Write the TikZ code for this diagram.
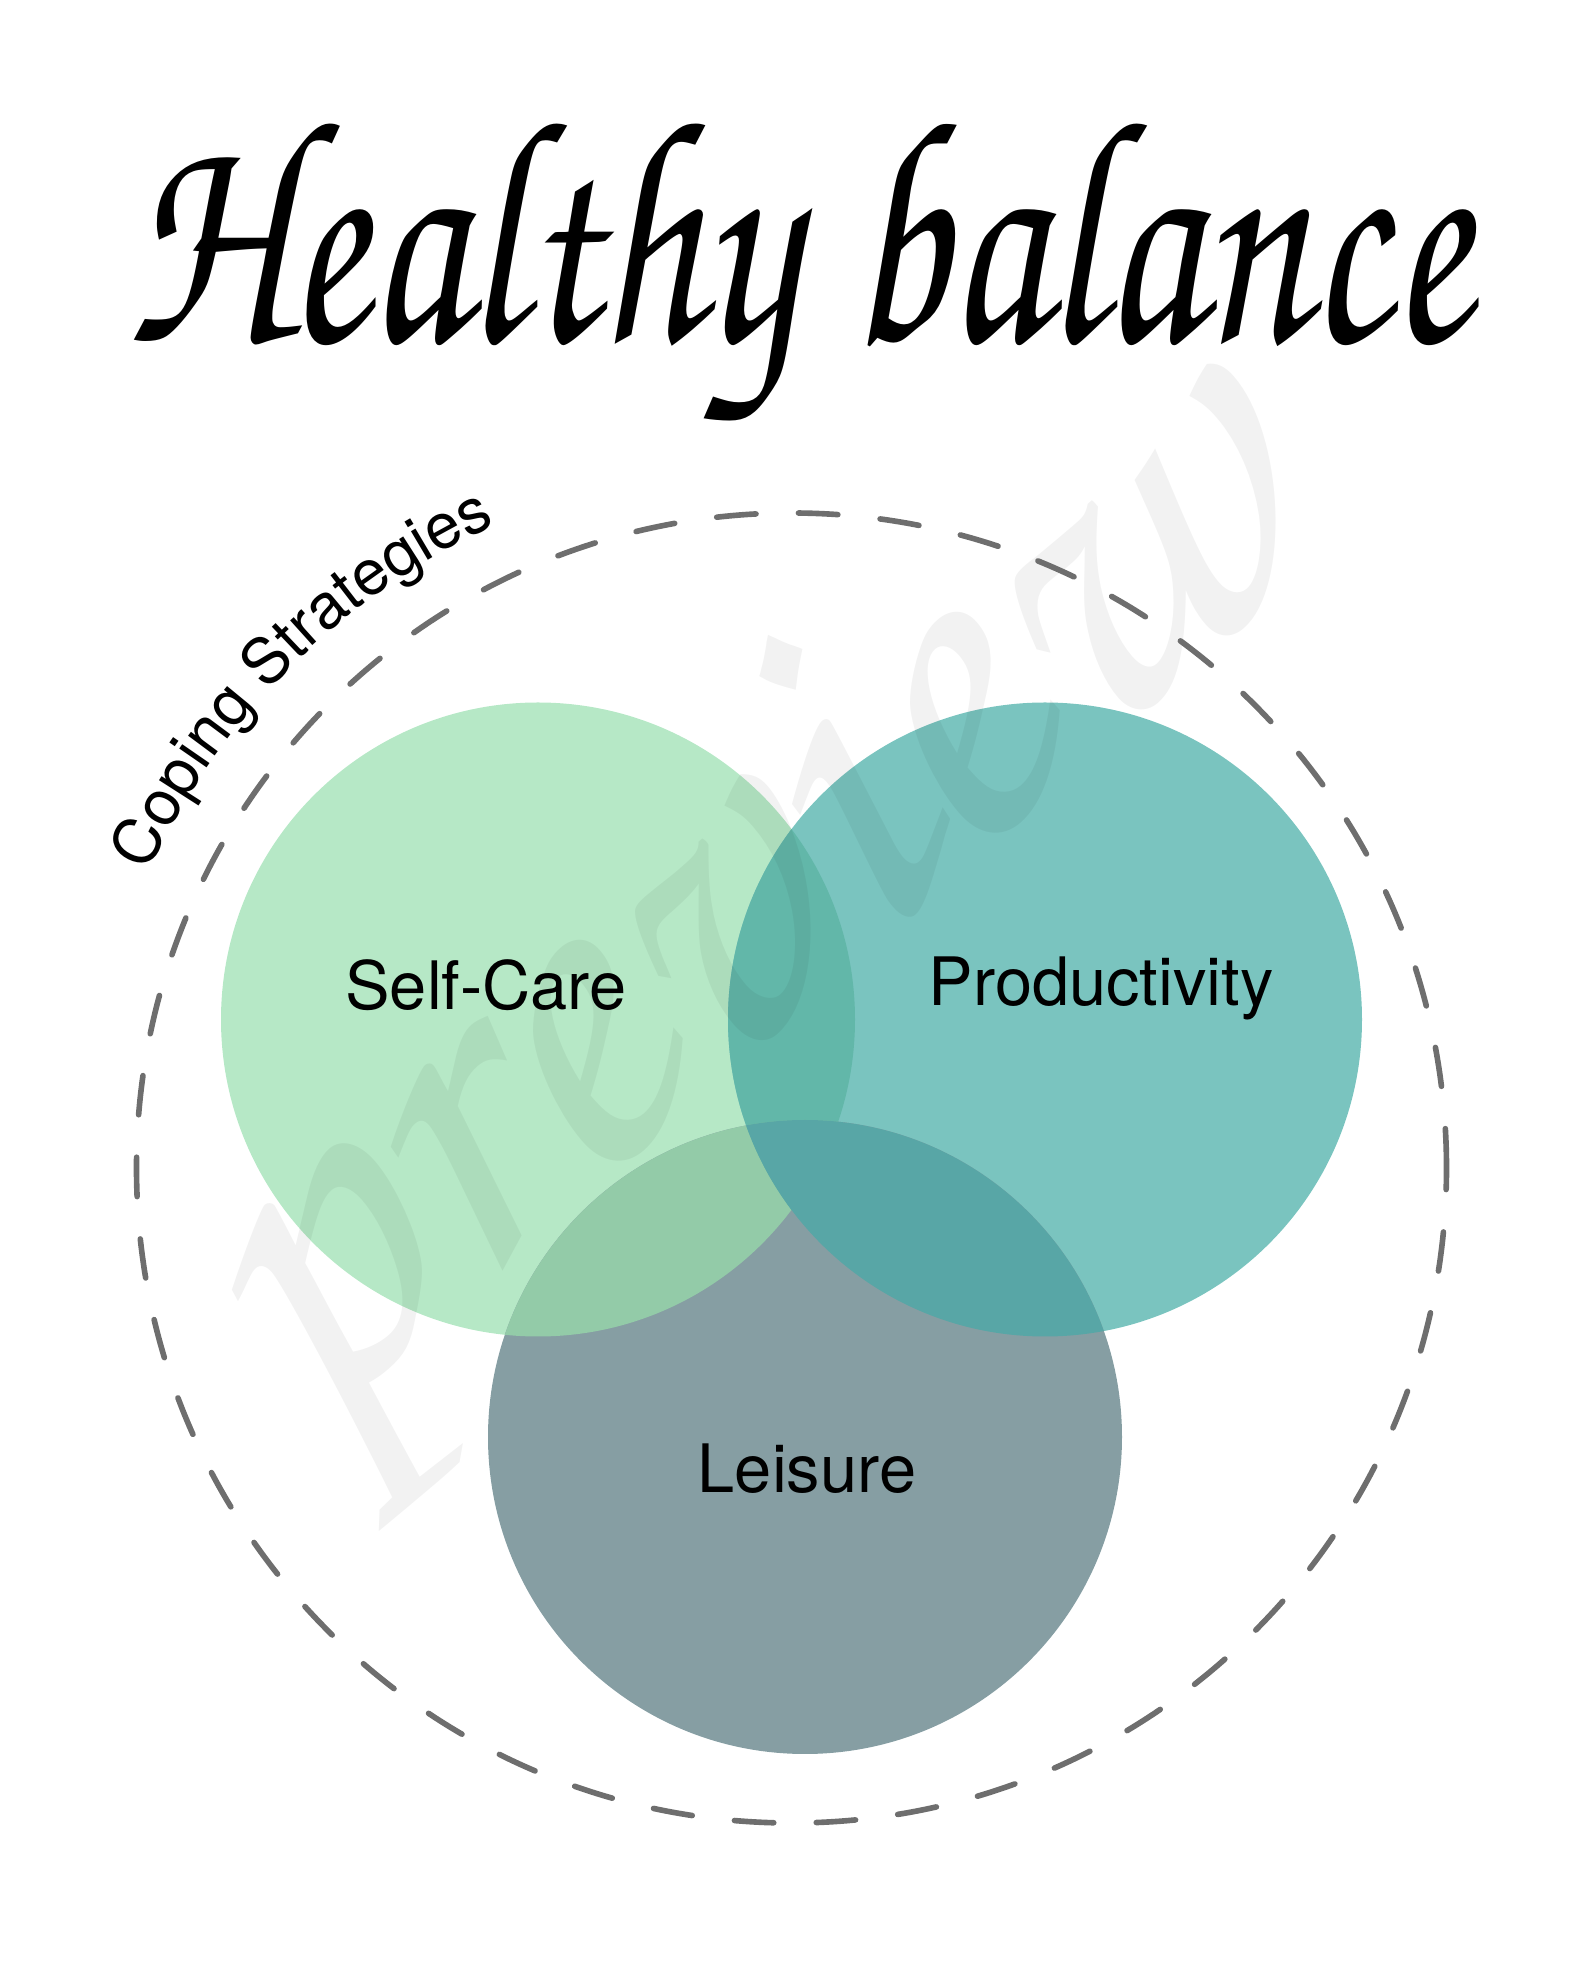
\documentclass[tikz,border=0pt]{standalone}
\usepackage[T1]{fontenc}
\usepackage{fontspec}
\setsansfont{TeX Gyre Heros}
\usepackage{graphicx}
\usetikzlibrary{decorations.text}

\definecolor{selfcare}{HTML}{B6E8C6}
\definecolor{productivity}{HTML}{7AC4BF}
\definecolor{leisure}{HTML}{869EA3}
\definecolor{scpr}{HTML}{62B7A9}
\definecolor{scle}{HTML}{93CBA8}
\definecolor{prle}{HTML}{58A6A6}
\definecolor{allthree}{HTML}{5CB2A4}
\definecolor{ringgray}{HTML}{6E6E6E}

\newcommand{\handfont}{\usefont{T1}{pzc}{mb}{it}}

\tikzset{%
  % Specifications for style of nodes:
    setlabel/.style = {anchor=base, inner sep=0pt, text=black,
                       font=\sffamily\fontsize{19}{19}\selectfont},
    ring/.style = {draw=ringgray, line width=1.6pt, line cap=round,
                   dash pattern=on 11.2pt off 12.1pt},
    watermark/.style = {inner sep=0pt, text=black, text opacity=0.05}%
}

\begin{document}
\begin{tikzpicture}
\def\R{3.17}
\def\Rring{6.55}
\def\Rtxt{7.08}

\useasboundingbox (0,0) rectangle (15.88,19.85);

\coordinate (SC) at (5.38,9.655);
\coordinate (PR) at (10.45,9.655);
\coordinate (LE) at (8.05,5.48);
\coordinate (O) at (7.915,8.17); %centre of the ring

\node[anchor=base, inner sep=0pt] (title) at (7.98,16.43)
  {\resizebox{13.42cm}{2.28cm}{\handfont Healthy balance}};

% the three sets
\fill[selfcare] (SC) circle (\R);
\fill[productivity] (PR) circle (\R);
\fill[leisure] (LE) circle (\R);
\begin{scope}
  \clip (SC) circle (\R);
  \fill[scpr] (PR) circle (\R);
  \fill[scle] (LE) circle (\R);
  \clip (PR) circle (\R);
  \fill[allthree] (LE) circle (\R);
\end{scope}
\begin{scope}
  \clip (PR) circle (\R);
  \fill[prle] (LE) circle (\R);
\end{scope}

\node[watermark, rotate=41] (wm) at (7.68,10.5)
  {\resizebox{13.6cm}{!}{\handfont preview}};

\draw[ring] (O) circle (\Rring);
\path[decorate, decoration={text along path, text align=center,
  text={|\sffamily\fontsize{18}{18}\selectfont|Coping Strategies}}]
  (O) ++(160:\Rtxt) arc (160:110:\Rtxt);

\node[setlabel] (selfcareL) at (4.86,9.75) {Self-Care};
\node[setlabel] (productivityL) at (11.01,9.79) {Productivity};
\node[setlabel] (leisureL) at (8.07,4.92) {Leisure};

\end{tikzpicture}
\end{document}
